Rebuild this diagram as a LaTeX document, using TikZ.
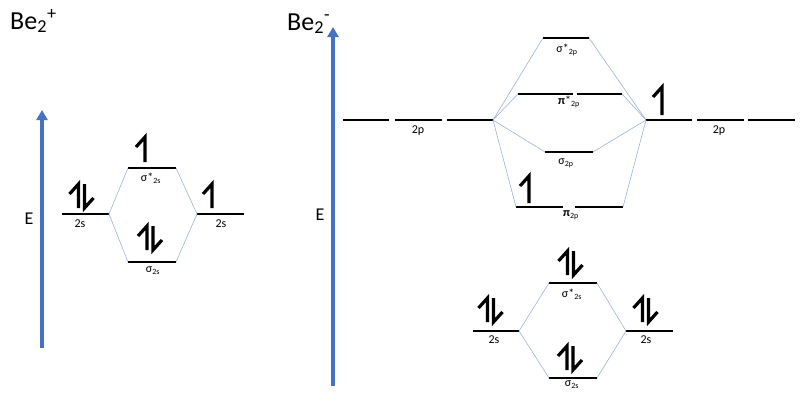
\documentclass[tikz,border=0pt]{standalone}
\usepackage{fontspec}
\setmainfont{Carlito}
\usetikzlibrary{arrows.meta}
\definecolor{axisblue}{RGB}{68,114,196}
\definecolor{linkblue}{RGB}{150,172,215}
\tikzset{
  level/.style={line width=2pt, black},
  link/.style={line width=0.55pt, linkblue},
  eaxis/.style={line width=3.2pt, axisblue, -{Triangle[width=11pt,length=10pt]}},
  elec/.style={line width=3.2pt, line join=miter, black},
  lbl/.style={inner sep=0pt, font=\fontsize{12}{14}\selectfont},
  big/.style={inner sep=0pt, font=\fontsize{26}{30}\selectfont},
  elbl/.style={inner sep=0pt, font=\fontsize{18}{20}\selectfont}
}
\newcommand\ElUp[3]{\draw[elec] (#1,#2) -- ++(0,-#3) -- ++(-9,10);}
\newcommand\ElPair[3]{%
  \draw[elec] ({#1-3},#2) -- ++(0,-#3) -- ++(-9,10);
  \draw[elec] ({#1+3},{#2-#3}) -- ++(0,#3) -- ++(9,-10);}
\begin{document}
\begin{tikzpicture}[x=1pt,y=-1pt]
\useasboundingbox (0,0) rectangle (800,400);
% ---------- Be2+ ----------
\node[big, anchor=base west] (t1) at (10,29) {Be\textsubscript{2}\textsuperscript{+}};
\coordinate (ax1b) at (42,348);
\coordinate (ax1t) at (42,110);
\draw[eaxis] (ax1b) -- (ax1t);
\node[elbl] (E1) at (29,219) {E};
% levels
\coordinate (a2sL1) at (62,214); \coordinate (a2sL2) at (109,214);
\coordinate (a2sR1) at (197,214); \coordinate (a2sR2) at (244,214);
\coordinate (asS1) at (128,168); \coordinate (asS2) at (176,168);
\coordinate (as1) at (128,262); \coordinate (as2) at (176,262);
\draw[level] (a2sL1) -- (a2sL2);
\draw[level] (a2sR1) -- (a2sR2);
\draw[level] (asS1) -- (asS2);
\draw[level] (as1) -- (as2);
\draw[link] (a2sL2) -- (asS1);
\draw[link] (a2sL2) -- (as1);
\draw[link] (a2sR1) -- (asS2);
\draw[link] (a2sR1) -- (as2);
\node[lbl] (la1) at (80,224) {2s};
\node[lbl] (la2) at (221,224) {2s};
\node[lbl] (la3) at (151,178) {σ*\textsubscript{2s}};
\node[lbl] (la4) at (153,271) {σ\textsubscript{2s}};
% electrons
\ElPair{81.5}{208}{24}
\ElUp{145}{162}{25}
\ElUp{212}{208}{24}
\ElPair{150}{250}{24}
% ---------- Be2- ----------
\node[big, anchor=base west] (t2) at (287,30) {Be\textsubscript{2}\textsuperscript{-}};
\coordinate (ax2b) at (333,386);
\coordinate (ax2t) at (333,27);
\draw[eaxis] (ax2b) -- (ax2t);
\node[elbl] (E2) at (320,215) {E};
% 2p atomic levels
\coordinate (pL1a) at (343,120); \coordinate (pL1b) at (389,120);
\coordinate (pL2a) at (395,120); \coordinate (pL2b) at (442,120);
\coordinate (pL3a) at (447,120); \coordinate (pL3b) at (493,120);
\coordinate (pR1a) at (646,120); \coordinate (pR1b) at (692,120);
\coordinate (pR2a) at (697,120); \coordinate (pR2b) at (744,120);
\coordinate (pR3a) at (748,120); \coordinate (pR3b) at (795,120);
\draw[level] (pL1a) -- (pL1b);
\draw[level] (pL2a) -- (pL2b);
\draw[level] (pL3a) -- (pL3b);
\draw[level] (pR1a) -- (pR1b);
\draw[level] (pR2a) -- (pR2b);
\draw[level] (pR3a) -- (pR3b);
% MO levels 2p
\coordinate (sS1) at (543,38); \coordinate (sS2) at (589,38);
\coordinate (pS1) at (518,94); \coordinate (pS1m) at (573,94);
\coordinate (pS2m) at (577,94); \coordinate (pS2) at (622,94);
\coordinate (sp1) at (545,152); \coordinate (sp2) at (593,152);
\coordinate (pp1) at (516,207); \coordinate (pp1m) at (563,207);
\coordinate (pp2m) at (575,207); \coordinate (pp2) at (623,207);
\draw[level] (sS1) -- (sS2);
\draw[level] (pS1) -- (pS1m);
\draw[level] (pS2m) -- (pS2);
\draw[level] (sp1) -- (sp2);
\draw[level] (pp1) -- (pp1m);
\draw[level] (pp2m) -- (pp2);
\draw[link] (pL3b) -- (sS1);
\draw[link] (pL3b) -- (pS1);
\draw[link] (pL3b) -- (sp1);
\draw[link] (pL3b) -- (pp1);
\draw[link] (pR1a) -- (sS2);
\draw[link] (pR1a) -- (pS2);
\draw[link] (pR1a) -- (sp2);
\draw[link] (pR1a) -- (pp2);
\node[lbl] (lb1) at (418,131) {2p};
\node[lbl] (lb2) at (719,131) {2p};
\node[lbl] (lb3) at (567,50) {σ*\textsubscript{2p}};
\node[lbl] (lb4) at (569,102) {{\bfseries π}*\textsubscript{2p}};
\node[lbl] (lb5) at (566,163) {σ\textsubscript{2p}};
\node[lbl] (lb6) at (571,215) {{\bfseries π}\textsubscript{2p}};
\ElUp{662}{115}{28}
\ElUp{529}{203}{27}
% 2s levels
\coordinate (b2sL1) at (473,331); \coordinate (b2sL2) at (519,331);
\coordinate (b2sR1) at (626,331); \coordinate (b2sR2) at (673,331);
\coordinate (bsS1) at (549,283); \coordinate (bsS2) at (597,283);
\coordinate (bs1) at (549,378); \coordinate (bs2) at (597,378);
\draw[level] (b2sL1) -- (b2sL2);
\draw[level] (b2sR1) -- (b2sR2);
\draw[level] (bsS1) -- (bsS2);
\draw[level] (bs1) -- (bs2);
\draw[link] (b2sL2) -- (bsS1);
\draw[link] (b2sL2) -- (bs1);
\draw[link] (b2sR1) -- (bsS2);
\draw[link] (b2sR1) -- (bs2);
\node[lbl] (lc1) at (494,340) {2s};
\node[lbl] (lc2) at (646,340) {2s};
\node[lbl] (lc3) at (572,294) {σ*\textsubscript{2s}};
\node[lbl] (lc4) at (572,385) {σ\textsubscript{2s}};
\ElPair{490.5}{322}{24}
\ElPair{570.5}{275}{24}
\ElPair{645.5}{322}{24}
\ElPair{570}{370}{24}
\end{tikzpicture}
\end{document}
